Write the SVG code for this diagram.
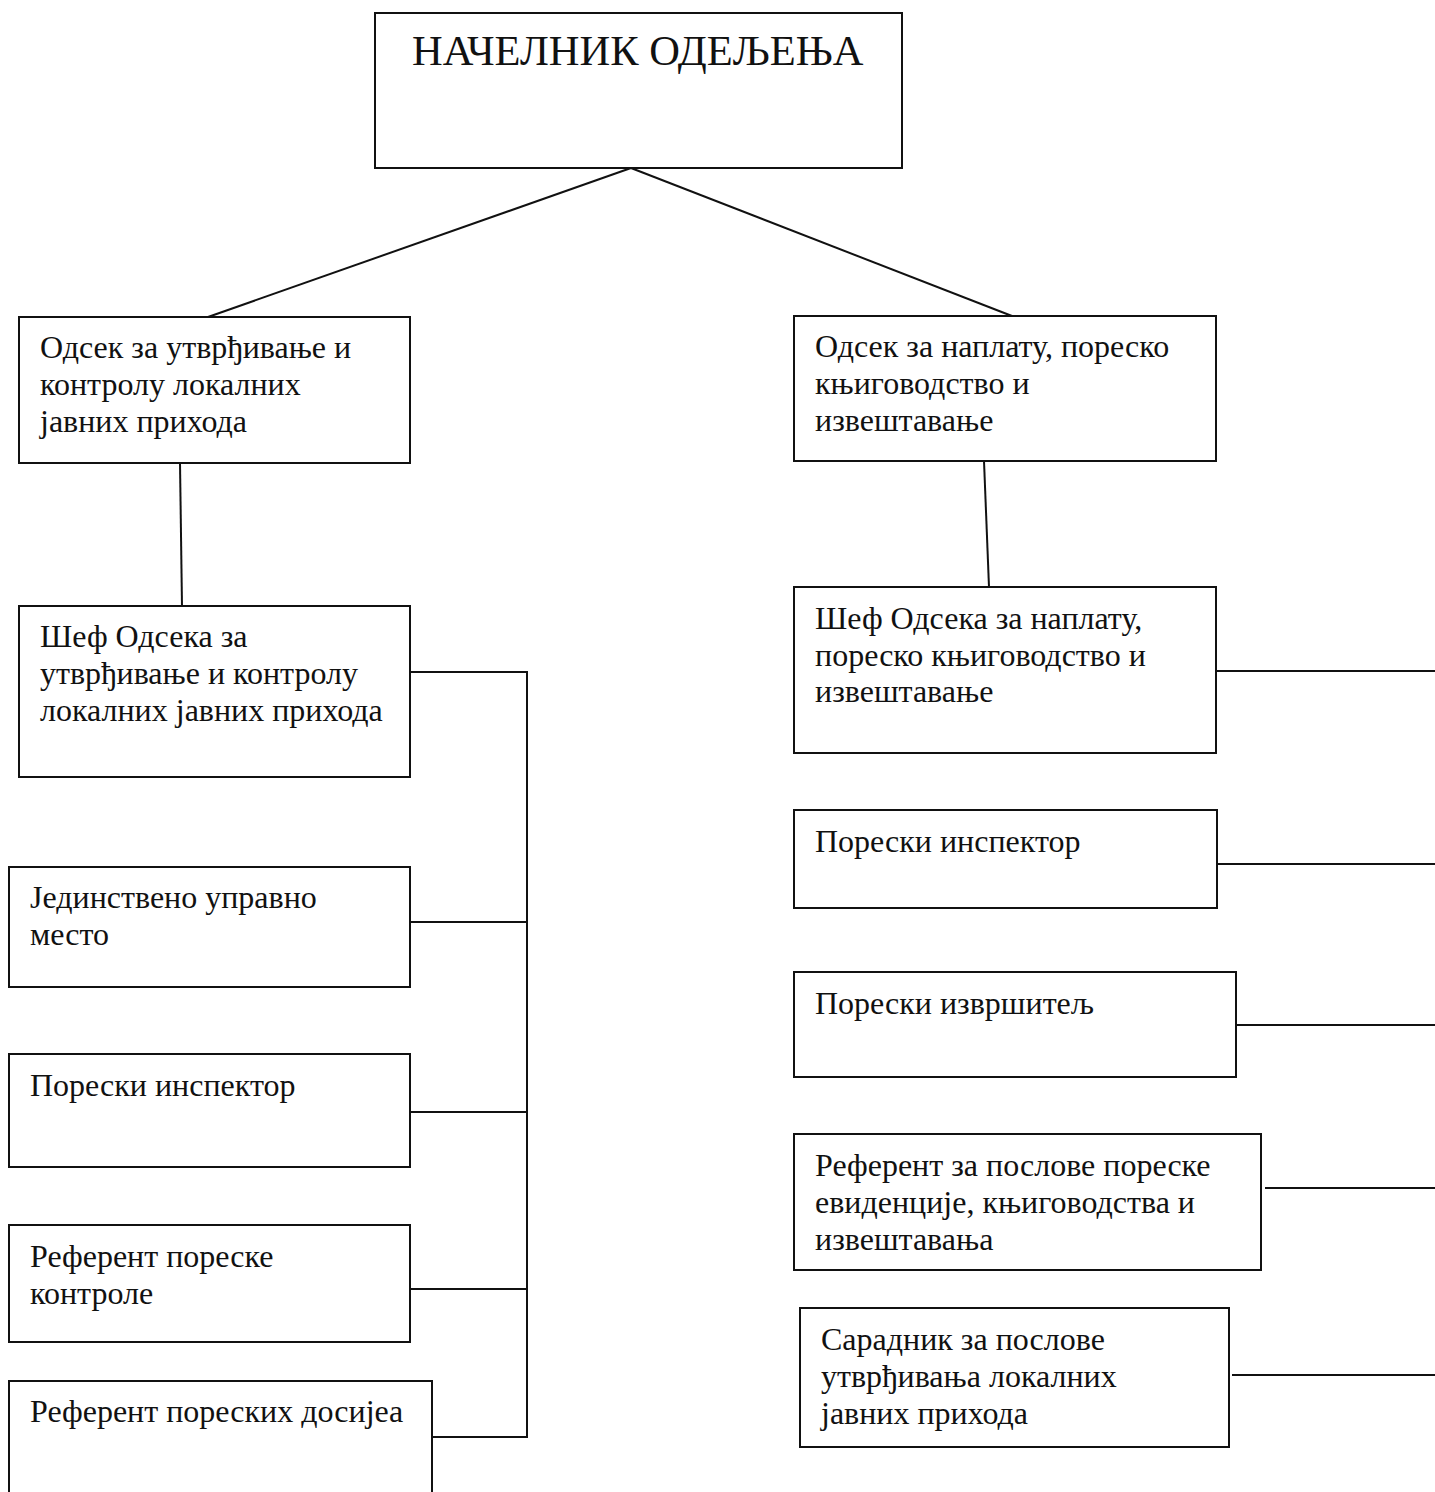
<svg xmlns="http://www.w3.org/2000/svg" width="1435" height="1492" viewBox="0 0 1435 1492">
<style>
.box{fill:#fff;stroke:#111;stroke-width:2}
.ln{stroke:#111;stroke-width:2;fill:none}
text{font-family:"Liberation Serif","Times New Roman",serif;font-size:32px;fill:#111}
.title{font-size:42.5px}
</style>
<rect width="1435" height="1492" fill="#fff"/>
<g id="connectors">
<line class="ln" x1="631" y1="168" x2="208" y2="317"/>
<line class="ln" x1="631" y1="168" x2="1012" y2="316"/>
<line class="ln" x1="180" y1="463" x2="182" y2="606"/>
<line class="ln" x1="984" y1="461" x2="989" y2="587"/>
<polyline class="ln" points="410,672 527,672 527,1437 432,1437"/>
<line class="ln" x1="410" y1="922" x2="527" y2="922"/>
<line class="ln" x1="410" y1="1112" x2="527" y2="1112"/>
<line class="ln" x1="410" y1="1289" x2="527" y2="1289"/>
<line class="ln" x1="1216" y1="671" x2="1435" y2="671"/>
<line class="ln" x1="1217" y1="864" x2="1435" y2="864"/>
<line class="ln" x1="1236" y1="1025" x2="1435" y2="1025"/>
<line class="ln" x1="1265" y1="1188" x2="1435" y2="1188"/>
<line class="ln" x1="1232" y1="1375" x2="1435" y2="1375"/>
</g>
<g id="nacelnik">
<rect class="box" x="375" y="13" width="527" height="155"/>
<text class="title" x="412" y="65">НАЧЕЛНИК ОДЕЉЕЊА</text>
</g>
<g id="odsek-utvrdjivanje">
<rect class="box" x="19" y="317" width="391" height="146"/>
<text x="40" y="358">Одсек за утврђивање и</text>
<text x="40" y="395">контролу локалних</text>
<text x="40" y="432">јавних прихода</text>
</g>
<g id="odsek-naplata">
<rect class="box" x="794" y="316" width="422" height="145"/>
<text x="815" y="357">Одсек за наплату, пореско</text>
<text x="815" y="394">књиговодство и</text>
<text x="815" y="431">извештавање</text>
</g>
<g id="sef-utvrdjivanje">
<rect class="box" x="19" y="606" width="391" height="171"/>
<text x="40" y="647">Шеф Одсека за</text>
<text x="40" y="684">утврђивање и контролу</text>
<text x="40" y="721">локалних јавних прихода</text>
</g>
<g id="jedinstveno">
<rect class="box" x="9" y="867" width="401" height="120"/>
<text x="30" y="908">Јединствено управно</text>
<text x="30" y="945">место</text>
</g>
<g id="poreski-inspektor-l">
<rect class="box" x="9" y="1054" width="401" height="113"/>
<text x="30" y="1096">Порески инспектор</text>
</g>
<g id="referent-kontrole">
<rect class="box" x="9" y="1225" width="401" height="117"/>
<text x="30" y="1267">Референт пореске</text>
<text x="30" y="1304">контроле</text>
</g>
<g id="referent-dosijea">
<rect class="box" x="9" y="1381" width="423" height="120"/>
<text x="30" y="1422">Референт пореских досијеа</text>
</g>
<g id="sef-naplata">
<rect class="box" x="794" y="587" width="422" height="166"/>
<text x="815" y="629">Шеф Одсека за наплату,</text>
<text x="815" y="666">пореско књиговодство и</text>
<text x="815" y="702">извештавање</text>
</g>
<g id="poreski-inspektor-r">
<rect class="box" x="794" y="810" width="423" height="98"/>
<text x="815" y="852">Порески инспектор</text>
</g>
<g id="poreski-izvrsitelj">
<rect class="box" x="794" y="972" width="442" height="105"/>
<text x="815" y="1014">Порески извршитељ</text>
</g>
<g id="referent-evidencije">
<rect class="box" x="794" y="1134" width="467" height="136"/>
<text x="815" y="1176">Референт за послове пореске</text>
<text x="815" y="1213">евиденције, књиговодства и</text>
<text x="815" y="1250">извештавања</text>
</g>
<g id="saradnik">
<rect class="box" x="800" y="1308" width="429" height="139"/>
<text x="821" y="1350">Сарадник за послове</text>
<text x="821" y="1387">утврђивања локалних</text>
<text x="821" y="1424">јавних прихода</text>
</g>
</svg>
